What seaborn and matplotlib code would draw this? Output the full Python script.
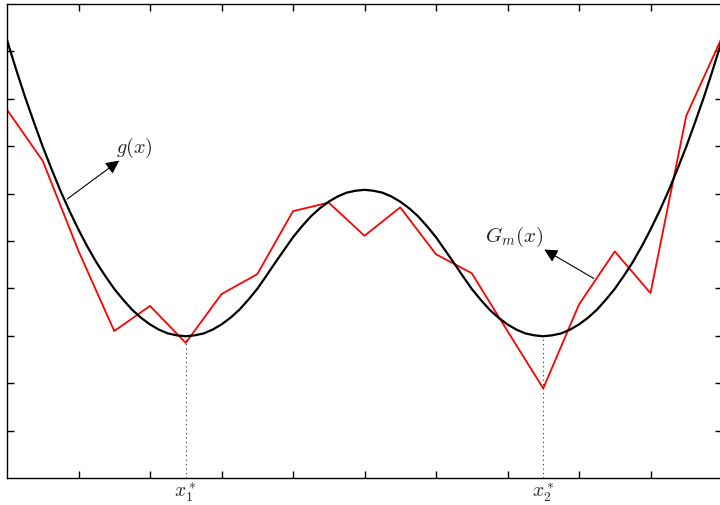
import numpy as np
import matplotlib
matplotlib.use("Agg")
import matplotlib.pyplot as plt
import seaborn as sns

# dados (curva g a cada 0.125)
x_g = np.arange(0, 10.001, 0.125)
g = [9.24, 8.63, 8.05, 7.51, 6.99, 6.51, 6.05, 5.63, 5.24, 4.88, 4.55,
     4.26, 3.99, 3.76, 3.55, 3.38, 3.24, 3.13, 3.05, 3.01, 2.99,
     3.01, 3.05, 3.13, 3.24, 3.38, 3.55, 3.76, 3.99, 4.26, 4.54,
     4.81, 5.08, 5.31, 5.52, 5.69, 5.83, 5.94, 6.02, 6.06, 6.08,
     6.06, 6.02, 5.94, 5.83, 5.69, 5.52, 5.31, 5.08, 4.81, 4.54,
     4.26, 3.99, 3.76, 3.55, 3.38, 3.24, 3.13, 3.05, 3.01, 2.99,
     3.01, 3.05, 3.13, 3.24, 3.38, 3.55, 3.76, 3.99, 4.26, 4.55,
     4.88, 5.24, 5.63, 6.05, 6.51, 6.99, 7.51, 8.05, 8.63, 9.24]

x_m = np.arange(0, 10.001, 0.5)
g_m = [7.77, 6.69, 4.79, 3.10, 3.63, 2.85, 3.88, 4.30, 5.63, 5.81, 5.11,
       5.71, 4.72, 4.32, 3.10, 1.89, 3.66, 4.78, 3.90, 7.64, 9.30]

x_star = [2.5, 7.5]
g_min = [2.99, 2.99]
star_labels = [r"$x_1^*$", r"$x_2^*$"]

# visual
sns.set_style("ticks")
plt.rcParams["mathtext.fontset"] = "cm"

fig = plt.figure(figsize=(7.2, 5.06), dpi=100)
ax = fig.add_axes([7 / 720, 27 / 506, 715 / 720, 474 / 506])

sns.lineplot(x=x_m, y=g_m, color="red", linewidth=1.3, ax=ax)
sns.lineplot(x=x_g, y=g, color="black", linewidth=1.6, ax=ax)

ax.vlines(x_star, 0, g_min, colors="#333333", linestyles=(0, (1, 3)),
          linewidth=0.8)

ax.set_xlim(0, 10)
ax.set_ylim(0, 10)
ax.set_xticks(range(1, 10))
ax.set_yticks(range(1, 10))
ax.set_xticklabels([])
ax.set_yticklabels([])
ax.set_xticks(x_star, minor=True)
ax.set_xticklabels(star_labels, minor=True, fontsize=14)
ax.tick_params(which="major", direction="in", length=5, width=1,
               top=True, right=True, color="black")
ax.tick_params(which="minor", length=0, pad=2)

for s in ax.spines.values():
    s.set_color("black")
    s.set_linewidth(1.0)

# setas
seta = dict(arrowstyle="-|>", color="black", lw=0.8, mutation_scale=20)
ax.annotate("", xy=(1.60, 6.73), xytext=(0.81, 5.85), arrowprops=seta)
ax.text(1.53, 6.73, r"$g(x)$", fontsize=14.5, ha="left", va="bottom")

ax.annotate("", xy=(7.48, 4.85), xytext=(8.24, 4.18), arrowprops=seta)
ax.text(7.50, 4.85, r"$G_m(x)$", fontsize=15, ha="right", va="bottom")

fig.savefig("out.png", dpi=100)
